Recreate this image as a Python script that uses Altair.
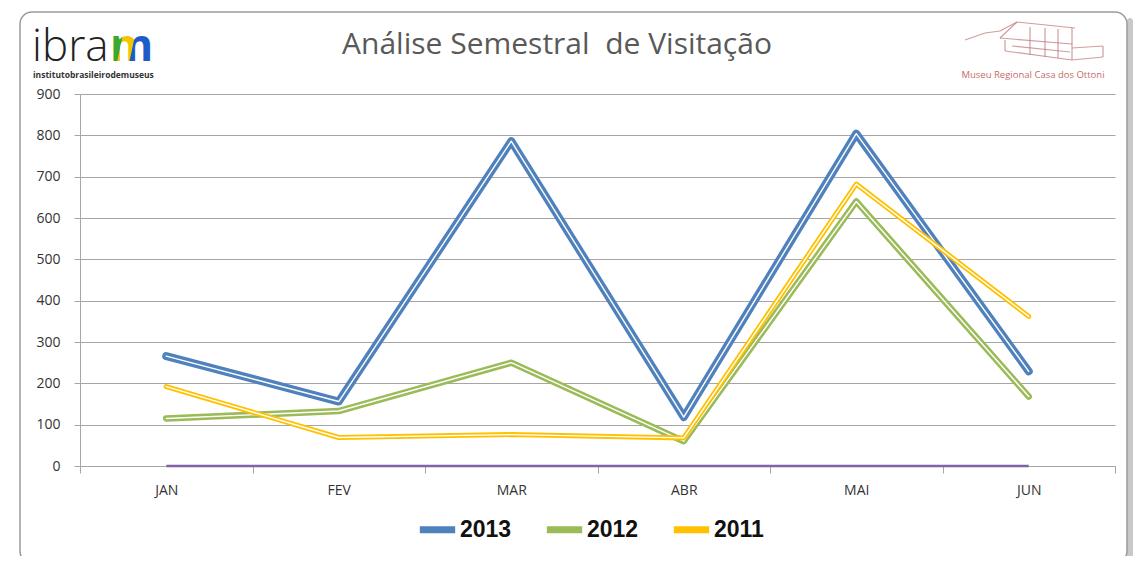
import altair as alt
import pandas as pd

months = ["JAN", "FEV", "MAR", "ABR", "MAI", "JUN"]
series = ["2013", "2012", "2011"]
v2013 = [266, 156, 786, 118, 804, 229]
v2012 = [115, 133, 250, 60, 640, 168]
v2011 = [192, 69, 76, 68, 682, 362]
vzero = [0, 0, 0, 0, 0, 0]
colors = ["#4F81BD", "#9BBB59", "#FFC000"]
widths = [8, 6.5, 5]

values = {"2013": v2013, "2012": v2012, "2011": v2011}
rows = []
for s in series:
    for m, v in zip(months, values[s]):
        rows.append({"mes": m, "ano": s, "valor": v})
df = pd.DataFrame(rows)
dfz = pd.DataFrame({"mes": months, "valor": vzero})
one = pd.DataFrame({"a": [0]})

W, H = 1035, 372

X = alt.X("mes:N", sort=months, bandPosition=0.5,
          scale=alt.Scale(type="band", paddingInner=0, paddingOuter=0),
          axis=alt.Axis(title=None, tickBand="extent", grid=False, labelAngle=0,
                        domainColor="#A6A6A6", tickColor="#A6A6A6", tickSize=7,
                        labelPadding=10, labelFontSize=14, labelColor="#333333",
                        labelFont="Open Sans"))
Y = alt.Y("valor:Q", scale=alt.Scale(domain=[0, 900], nice=False),
          axis=alt.Axis(title=None, values=list(range(0, 901, 100)), grid=True,
                        gridColor="#A6A6A6", gridWidth=1.2, domainColor="#A6A6A6",
                        tickColor="#A6A6A6", tickSize=6, labelPadding=14,
                        labelFontSize=14, labelColor="#333333", labelFont="Open Sans"))
C = alt.Color("ano:N", scale=alt.Scale(domain=series, range=colors),
              legend=alt.Legend(title=None, orient="none", legendX=336, legendY=414,
                                direction="horizontal", symbolType="stroke",
                                symbolStrokeWidth=7, symbolSize=1250,
                                labelFontSize=23, labelFontWeight="bold",
                                labelFont="Liberation Sans", labelColor="#111111",
                                columnPadding=20, labelOffset=1))

# frame and shadow (decoration)
shadow_r = alt.Chart(one).mark_rect(fill="#C8C8C8", cornerRadius=3).encode(
    x=alt.value(1047), x2=alt.value(1053), y=alt.value(-76), y2=alt.value(475))
shadow_b = alt.Chart(one).mark_rect(fill="#C8C8C8", cornerRadius=3).encode(
    x=alt.value(-54), x2=alt.value(1053), y=alt.value(469), y2=alt.value(475))
frame = alt.Chart(one).mark_rect(fill=None, stroke="#9A9A9A", strokeWidth=1.5,
                                 cornerRadius=12).encode(
    x=alt.value(-60), x2=alt.value(1047), y=alt.value(-82), y2=alt.value(469))

layers = [shadow_r, shadow_b, frame]

for s, w in zip(series, widths):
    d = df[df["ano"] == s]
    base = alt.Chart(d).mark_line(strokeWidth=w, strokeCap="round", strokeJoin="round").encode(
        x=X, y=Y, color=C)
    inner = alt.Chart(d).mark_line(strokeWidth=1.4, color="white", strokeCap="round",
                                   strokeJoin="round").encode(x=X, y=Y)
    layers += [base, inner]

zero = alt.Chart(dfz).mark_line(strokeWidth=2.5, color="#8064A2").encode(x=X, y=Y)
layers.append(zero)

# title
title = alt.Chart(one).mark_text(text="Análise Semestral\u00a0\u00a0de Visitação", fontSize=30,
                                 font="Open Sans", color="#595959", align="center",
                                 baseline="alphabetic").encode(
    x=alt.value(477), y=alt.value(-40))
# ibram logo
ibra = alt.Chart(one).mark_text(text="ibra", fontSize=44, font="Open Sans", fontWeight=300,
                                color="#222222", align="left", baseline="alphabetic").encode(
    x=alt.value(-48), y=alt.value(-33))
mgrad = alt.Gradient(gradient="linear", x1=0, x2=1, y1=0, y2=0.3, stops=[
    alt.GradientStop(color="#3AA835", offset=0), alt.GradientStop(color="#3AA835", offset=0.36),
    alt.GradientStop(color="#F5C400", offset=0.38), alt.GradientStop(color="#F5C400", offset=0.62),
    alt.GradientStop(color="#1E5BC6", offset=0.64), alt.GradientStop(color="#1E5BC6", offset=1)])
mlogo = alt.Chart(one).mark_text(text="m", fontSize=44, font="Open Sans", fontWeight="bold",
                                 color=mgrad, align="left", baseline="alphabetic").encode(
    x=alt.value(30), y=alt.value(-33))
tag = alt.Chart(one).mark_text(text="institutobrasileirodemuseus", fontSize=8.5,
                               font="Open Sans", fontWeight="bold", color="#333333",
                               align="left", baseline="middle").encode(
    x=alt.value(-47), y=alt.value(-19))
museu = alt.Chart(one).mark_text(text="Museu Regional Casa dos Ottoni", fontSize=9.5,
                                 font="Open Sans", color="#C0504D", opacity=0.85,
                                 align="center", baseline="middle").encode(
    x=alt.value(953), y=alt.value(-19))
layers += [title, ibra, mlogo, tag, museu]

# building sketch (decoration), page coords shifted by plot origin (80, 94)
sketch = [
    (965, 40, 985, 33), (985, 33, 1000, 31), (1000, 31, 1017, 22),
    (1017, 22, 1075, 28), (1000, 38, 1017, 22), (1000, 38, 1072, 44),
    (1005, 40, 1005, 51), (1005, 51, 1072, 60), (1072, 28, 1072, 60),
    (1030, 27, 1030, 55), (1045, 28, 1045, 57), (1058, 29, 1058, 58),
    (1012, 46, 1070, 52), (1072, 48, 1103, 46), (1103, 46, 1103, 57),
    (1072, 60, 1103, 57),
]
for (a, b, c, d) in sketch:
    layers.append(alt.Chart(one).mark_rule(color="#C07C7C", strokeWidth=1.2, opacity=0.75).encode(
        x=alt.value(a - 80), y=alt.value(b - 94), x2=alt.value(c - 80), y2=alt.value(d - 94)))

chart = alt.layer(*layers).properties(
    width=W, height=H,
    padding={"left": 72, "top": 86, "right": 20, "bottom": 90},
    autosize=alt.AutoSizeParams(type="none"),
    background="white",
).configure_view(stroke=None)

chart.save("out.html", embed_options={"renderer": "svg", "actions": False})
